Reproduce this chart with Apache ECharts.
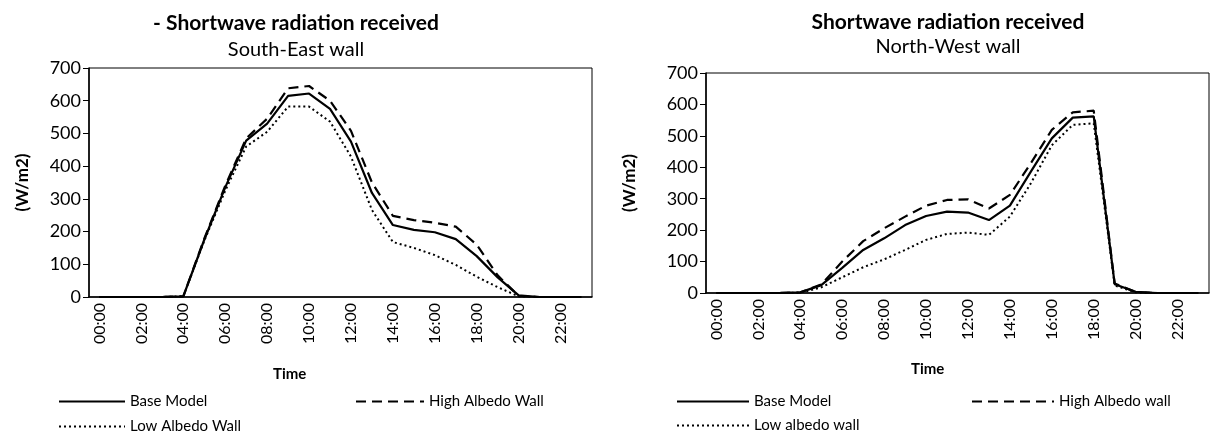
<!DOCTYPE html>
<html>
<head>
<meta charset="utf-8">
<script src="https://cdn.jsdelivr.net/npm/echarts@6/dist/echarts.min.js"></script>
<style>
  html, body { margin: 0; padding: 0; background: #fff; }
  #chart { width: 1210px; height: 436px; }
</style>
</head>
<body>
<div id="chart"></div>
<script>
// hourly categories
const hours = ['00:00', '01:00', '02:00', '03:00', '04:00', '05:00', '06:00', '07:00',
  '08:00', '09:00', '10:00', '11:00', '12:00', '13:00', '14:00', '15:00',
  '16:00', '17:00', '18:00', '19:00', '20:00', '21:00', '22:00', '23:00'];

// South-East wall (W/m2)
const seBase = [0, 0, 0, 0, 2, 175, 335, 478, 530, 615, 622, 575, 475, 318, 220, 205, 198, 177, 125, 60, 5, 0, 0, 0];
const seHigh = [0, 0, 0, 0, 2, 178, 340, 485, 545, 638, 645, 600, 508, 350, 248, 235, 227, 215, 160, 66, 3, 0, 0, 0];
const seLow = [0, 0, 0, 0, 2, 172, 325, 460, 505, 582, 582, 536, 429, 266, 168, 150, 128, 98, 62, 30, 2, 0, 0, 0];

// North-West wall (W/m2)
const nwBase = [0, 0, 0, 0, 2, 25, 80, 137, 174, 216, 245, 259, 256, 232, 278, 386, 492, 558, 562, 28, 4, 0, 0, 0];
const nwHigh = [0, 0, 0, 0, 2, 27, 100, 165, 206, 243, 278, 296, 298, 269, 312, 413, 519, 575, 580, 30, 3, 0, 0, 0];
const nwLow = [0, 0, 0, 0, 1, 18, 50, 82, 107, 137, 169, 188, 192, 185, 243, 349, 470, 535, 540, 24, 2, 0, 0, 0];

const FONT = 'Lato';

const chart = echarts.init(document.getElementById('chart'));

// axis helpers
const xAxisFor = (gridIndex) => ({
  type: 'category',
  gridIndex,
  data: hours,
  boundaryGap: true,
  axisLine: { lineStyle: { color: '#000', width: 1.5 } },
  axisTick: { interval: 0, length: 6, lineStyle: { color: '#000' } },
  axisLabel: { interval: 1, rotate: 90, color: '#000', fontFamily: FONT, fontSize: 16, margin: 6 },
  splitLine: { show: false },
});

const yAxisFor = (gridIndex, nameGap) => ({
  type: 'value',
  gridIndex,
  min: 0,
  max: 700,
  interval: 100,
  name: '(W/m2)',
  nameLocation: 'middle',
  nameGap,
  nameTextStyle: { color: '#000', fontFamily: FONT, fontSize: 17, fontWeight: 'bold' },
  axisLine: { show: true, lineStyle: { color: '#000', width: 1.5 } },
  axisTick: { show: true, length: 6, lineStyle: { color: '#000' } },
  axisLabel: { color: '#000', fontFamily: FONT, fontSize: 18, margin: 8 },
  splitLine: { show: false },
});

const lineSeries = (name, data, idx, type, width) => ({
  name,
  type: 'line',
  xAxisIndex: idx,
  yAxisIndex: idx,
  data,
  symbol: 'none',
  color: '#000',
  lineStyle: { color: '#000', width, type },
  emphasis: { disabled: true },
});

// one legend box per entry so each can sit where the reference has it
const legendFor = (name, left, top, w) => ({
  data: [name],
  left,
  top,
  itemWidth: w,
  itemHeight: 10,
  itemGap: 4,
  itemStyle: { opacity: 0 },
  textStyle: { color: '#000', fontFamily: FONT, fontSize: 15 },
});

const titleStyle = { color: '#000', fontFamily: FONT, fontSize: 21, fontWeight: 'bold' };
const subStyle = { color: '#000', fontFamily: FONT, fontSize: 20 };

const option = {
  animation: false,
  title: [
    {
      text: '- Shortwave radiation received',
      subtext: 'South-East wall',
      left: 291,
      textAlign: 'center',
      top: 8,
      itemGap: 6,
      textStyle: titleStyle,
      subtextStyle: subStyle,
    },
    {
      text: 'Shortwave radiation received',
      subtext: 'North-West wall',
      left: 943,
      textAlign: 'center',
      top: 7,
      itemGap: 4,
      textStyle: titleStyle,
      subtextStyle: subStyle,
    },
  ],
  grid: [
    { left: 89, top: 68, width: 503, height: 229, show: true, borderColor: '#000', borderWidth: 1, backgroundColor: 'transparent' },
    { left: 706, top: 73, width: 503, height: 220, show: true, borderColor: '#000', borderWidth: 1, backgroundColor: 'transparent' },
  ],
  xAxis: [xAxisFor(0), xAxisFor(1)],
  yAxis: [yAxisFor(0, 58), yAxisFor(1, 68)],
  legend: [
    legendFor('Base Model', 53, 389, 66),
    legendFor('High Albedo Wall', 350, 389, 68),
    legendFor('Low Albedo Wall', 53, 414, 66),
    legendFor('Base Model', 671, 389, 72),
    legendFor('High Albedo wall', 966, 389, 82),
    legendFor('Low albedo wall', 671, 413, 72),
  ],
  graphic: [
    { type: 'text', left: 273, top: 367, style: { text: 'Time', fill: '#000', font: 'bold 15px Lato' } },
    { type: 'text', left: 911, top: 362, style: { text: 'Time', fill: '#000', font: 'bold 15px Lato' } },
  ],
  series: [
    lineSeries('Base Model', seBase, 0, 'solid', 2.2),
    lineSeries('High Albedo Wall', seHigh, 0, [10, 6], 2.2),
    lineSeries('Low Albedo Wall', seLow, 0, [2, 3], 2),
    lineSeries('Base Model', nwBase, 1, 'solid', 2.2),
    lineSeries('High Albedo wall', nwHigh, 1, [10, 6], 2.2),
    lineSeries('Low albedo wall', nwLow, 1, [2, 3], 2),
  ],
};

chart.setOption(option);
</script>
</body>
</html>
